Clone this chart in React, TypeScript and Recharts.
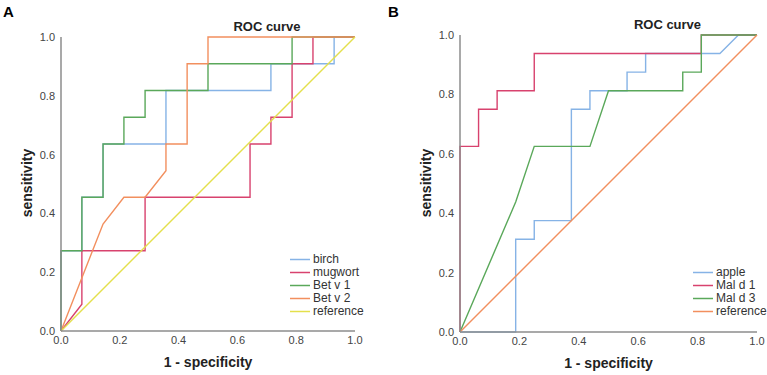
import React from 'react';
import { LineChart, Line, XAxis, YAxis, Legend } from 'recharts';

// ROC curves for two allergen panels (SPSS-style output)

type Pt = { x: number; y: number };

const axisTicks = [0, 0.2, 0.4, 0.6, 0.8, 1];

// Panel A: pollen
const birchPoints: Pt[] = [
  { x: 0, y: 0 }, { x: 0, y: 0.273 }, { x: 0.071, y: 0.273 }, { x: 0.071, y: 0.455 },
  { x: 0.143, y: 0.455 }, { x: 0.143, y: 0.636 }, { x: 0.357, y: 0.636 }, { x: 0.357, y: 0.818 },
  { x: 0.714, y: 0.818 }, { x: 0.714, y: 0.909 }, { x: 0.929, y: 0.909 }, { x: 0.929, y: 1 },
  { x: 1, y: 1 },
];
const mugwortPoints: Pt[] = [
  { x: 0, y: 0 }, { x: 0.071, y: 0.091 }, { x: 0.071, y: 0.273 }, { x: 0.286, y: 0.273 },
  { x: 0.286, y: 0.455 }, { x: 0.643, y: 0.455 }, { x: 0.643, y: 0.636 }, { x: 0.714, y: 0.636 },
  { x: 0.714, y: 0.727 }, { x: 0.786, y: 0.727 }, { x: 0.786, y: 0.909 }, { x: 0.857, y: 0.909 },
  { x: 0.857, y: 1 }, { x: 1, y: 1 },
];
const betV1Points: Pt[] = [
  { x: 0, y: 0 }, { x: 0, y: 0.273 }, { x: 0.071, y: 0.273 }, { x: 0.071, y: 0.455 },
  { x: 0.143, y: 0.455 }, { x: 0.143, y: 0.636 }, { x: 0.214, y: 0.636 }, { x: 0.214, y: 0.727 },
  { x: 0.286, y: 0.727 }, { x: 0.286, y: 0.818 }, { x: 0.5, y: 0.818 }, { x: 0.5, y: 0.909 },
  { x: 0.786, y: 0.909 }, { x: 0.786, y: 1 }, { x: 1, y: 1 },
];
const betV2Points: Pt[] = [
  { x: 0, y: 0 }, { x: 0.143, y: 0.364 }, { x: 0.214, y: 0.455 }, { x: 0.286, y: 0.455 },
  { x: 0.357, y: 0.545 }, { x: 0.357, y: 0.636 }, { x: 0.429, y: 0.636 }, { x: 0.429, y: 0.909 },
  { x: 0.5, y: 0.909 }, { x: 0.5, y: 1 }, { x: 1, y: 1 },
];

// Panel B: apple
const applePoints: Pt[] = [
  { x: 0, y: 0 }, { x: 0.1875, y: 0 }, { x: 0.1875, y: 0.3125 }, { x: 0.25, y: 0.3125 },
  { x: 0.25, y: 0.375 }, { x: 0.375, y: 0.375 }, { x: 0.375, y: 0.75 }, { x: 0.4375, y: 0.75 },
  { x: 0.4375, y: 0.8125 }, { x: 0.5625, y: 0.8125 }, { x: 0.5625, y: 0.875 }, { x: 0.625, y: 0.875 },
  { x: 0.625, y: 0.9375 }, { x: 0.875, y: 0.9375 }, { x: 0.9375, y: 1 }, { x: 1, y: 1 },
];
const malD1Points: Pt[] = [
  { x: 0, y: 0 }, { x: 0, y: 0.625 }, { x: 0.0625, y: 0.625 }, { x: 0.0625, y: 0.75 },
  { x: 0.125, y: 0.75 }, { x: 0.125, y: 0.8125 }, { x: 0.25, y: 0.8125 }, { x: 0.25, y: 0.9375 },
  { x: 0.8125, y: 0.9375 }, { x: 0.8125, y: 1 }, { x: 1, y: 1 },
];
const malD3Points: Pt[] = [
  { x: 0, y: 0 }, { x: 0.1875, y: 0.4375 }, { x: 0.25, y: 0.625 }, { x: 0.4375, y: 0.625 },
  { x: 0.5, y: 0.8125 }, { x: 0.75, y: 0.8125 }, { x: 0.75, y: 0.875 }, { x: 0.8125, y: 0.875 },
  { x: 0.8125, y: 1 }, { x: 1, y: 1 },
];

const referencePoints: Pt[] = [{ x: 0, y: 0 }, { x: 1, y: 1 }];

const BLUE = '#86b3e6';
const RED = '#d8426e';
const GREEN = '#5aa85a';
const ORANGE = '#f28f5e';
const YELLOW = '#e4e04c';

const FONT = '"Liberation Sans", Arial, sans-serif';

type Series = { name: string; color: string; data: Pt[] };

const panelA: Series[] = [
  { name: 'birch', color: BLUE, data: birchPoints },
  { name: 'mugwort', color: RED, data: mugwortPoints },
  { name: 'Bet v 1', color: GREEN, data: betV1Points },
  { name: 'Bet v 2', color: ORANGE, data: betV2Points },
  { name: 'reference', color: YELLOW, data: referencePoints },
];

const panelB: Series[] = [
  { name: 'apple', color: BLUE, data: applePoints },
  { name: 'Mal d 1', color: RED, data: malD1Points },
  { name: 'Mal d 3', color: GREEN, data: malD3Points },
  { name: 'reference', color: ORANGE, data: referencePoints },
];

const renderLegend = (series: Series[]) => () => (
  <div style={{ fontFamily: FONT, fontSize: 12, color: '#333', lineHeight: '13px' }}>
    {series.map((s) => (
      <div key={s.name} style={{ display: 'flex', alignItems: 'center', height: 13 }}>
        <svg width={23} height={13} style={{ flexShrink: 0 }}>
          <line x1={0} x2={20} y1={6.5} y2={6.5} stroke={s.color} strokeWidth={1.5} />
        </svg>
        <span style={{ whiteSpace: 'nowrap' }}>{s.name}</span>
      </div>
    ))}
  </div>
);

interface PanelProps {
  letter: string;
  series: Series[];
  left: number;
  width: number;
  margin: { top: number; right: number; bottom: number; left: number };
  legendPos: { left: number; top: number };
}

const RocPanel: React.FC<PanelProps> = ({ letter, series, left, width, margin, legendPos }) => {
  const plotLeft = margin.left + 40;
  const plotRight = width - margin.right;
  const plotTop = margin.top;
  const plotBottom = 375 - margin.bottom - 30;
  const cx = (plotLeft + plotRight) / 2;

  return (
    <div style={{ position: 'absolute', left, top: 0, width, height: 375 }}>
      <LineChart width={width} height={375} margin={margin}>
        <XAxis
          type="number"
          dataKey="x"
          domain={[0, 1]}
          ticks={axisTicks}
          tickFormatter={(v: number) => v.toFixed(1)}
          tickLine={false}
          tickSize={4}
          tickMargin={1}
          height={30}
          axisLine={{ stroke: '#8c8c8c', strokeWidth: 1.5 }}
          tick={{ fill: '#444', fontSize: 11, fontFamily: FONT }}
        />
        <YAxis
          type="number"
          dataKey="y"
          domain={[0, 1]}
          ticks={axisTicks}
          tickFormatter={(v: number) => v.toFixed(1)}
          tickLine={false}
          tickSize={4}
          tickMargin={2}
          width={40}
          axisLine={{ stroke: '#8c8c8c', strokeWidth: 1.5 }}
          tick={{ fill: '#444', fontSize: 11, fontFamily: FONT }}
        />
        {/* vertical + centered + middle keeps the legend out of the plot offset */}
        <Legend
          layout="vertical"
          align="center"
          verticalAlign="middle"
          content={renderLegend(series)}
          wrapperStyle={{ left: legendPos.left, top: legendPos.top, width: 90 }}
        />
        {series.map((s) => (
          <Line
            key={s.name}
            data={s.data}
            dataKey="y"
            name={s.name}
            type="linear"
            stroke={s.color}
            strokeWidth={1.4}
            dot={false}
            isAnimationActive={false}
          />
        ))}
      </LineChart>
      <div style={{ position: 'absolute', left: 3, top: 3, fontFamily: FONT, fontWeight: 'bold', fontSize: 15 }}>
        {letter}
      </div>
      <div
        style={{
          position: 'absolute', left: cx + 59 - 60, top: plotTop - 18, width: 120, textAlign: 'center',
          fontFamily: FONT, fontWeight: 'bold', fontSize: 13, color: '#222',
        }}
      >
        ROC curve
      </div>
      <div
        style={{
          position: 'absolute', left: cx - 80, top: plotBottom + 23, width: 160, textAlign: 'center',
          fontFamily: FONT, fontWeight: 'bold', fontSize: 14, color: '#222',
        }}
      >
        1 - specificity
      </div>
      <div
        style={{
          position: 'absolute', left: plotLeft - 34 - 60, top: (plotTop + plotBottom) / 2 - 9, width: 120,
          textAlign: 'center', transform: 'rotate(-90deg)', fontFamily: FONT, fontWeight: 'bold',
          fontSize: 14, color: '#222',
        }}
      >
        sensitivity
      </div>
    </div>
  );
};

export default function App() {
  return (
    <div style={{ position: 'absolute', left: 0, top: 0, width: 767, height: 375, background: '#fff' }}>
      <RocPanel
        letter="A"
        series={panelA}
        left={0}
        width={380}
        margin={{ top: 37, right: 25, bottom: 14, left: 21 }}
        legendPos={{ left: 290, top: 253 }}
      />
      <RocPanel
        letter="B"
        series={panelB}
        left={385}
        width={382}
        margin={{ top: 35, right: 10, bottom: 13, left: 35 }}
        legendPos={{ left: 308, top: 266 }}
      />
    </div>
  );
}
